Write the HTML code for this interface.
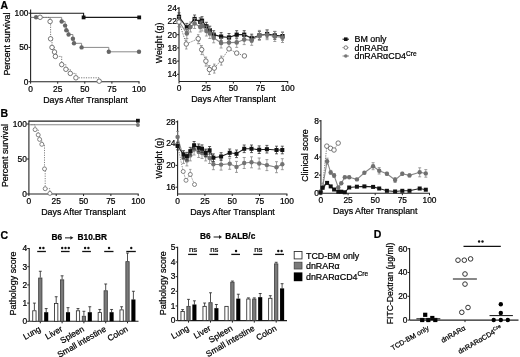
<!DOCTYPE html>
<html><head><meta charset="utf-8"><style>
html,body{margin:0;padding:0;background:#fff;}
body{width:520px;height:357px;overflow:hidden;}
svg{display:block;font-family:"Liberation Sans", sans-serif;filter:blur(0.35px);}
text{stroke:#000;stroke-width:0.22px;}
</style></head><body>
<svg width="520" height="357" viewBox="0 0 520 357">
<rect width="520" height="357" fill="#fff"/>
<text x="0.50" y="8.80" font-size="10.5" text-anchor="start" font-weight="bold">A</text>
<line x1="30.60" y1="9.60" x2="30.60" y2="81.70" stroke="#222" stroke-width="1.1"/>
<line x1="28.60" y1="13.20" x2="30.60" y2="13.20" stroke="#222" stroke-width="1.0"/>
<text x="28.50" y="16.00" font-size="8.4" text-anchor="end">100</text>
<line x1="28.60" y1="47.45" x2="30.60" y2="47.45" stroke="#222" stroke-width="1.0"/>
<text x="28.50" y="50.25" font-size="8.4" text-anchor="end">50</text>
<line x1="28.60" y1="81.70" x2="30.60" y2="81.70" stroke="#222" stroke-width="1.0"/>
<text x="28.50" y="84.50" font-size="8.4" text-anchor="end">0</text>
<line x1="30.60" y1="81.70" x2="139.50" y2="81.70" stroke="#222" stroke-width="1.1"/>
<line x1="30.60" y1="81.70" x2="30.60" y2="83.70" stroke="#222" stroke-width="1.0"/>
<text x="30.60" y="91.60" font-size="8.4" text-anchor="middle">0</text>
<line x1="57.70" y1="81.70" x2="57.70" y2="83.70" stroke="#222" stroke-width="1.0"/>
<text x="57.70" y="91.60" font-size="8.4" text-anchor="middle">25</text>
<line x1="84.80" y1="81.70" x2="84.80" y2="83.70" stroke="#222" stroke-width="1.0"/>
<text x="84.80" y="91.60" font-size="8.4" text-anchor="middle">50</text>
<line x1="111.90" y1="81.70" x2="111.90" y2="83.70" stroke="#222" stroke-width="1.0"/>
<text x="111.90" y="91.60" font-size="8.4" text-anchor="middle">75</text>
<line x1="139.00" y1="81.70" x2="139.00" y2="83.70" stroke="#222" stroke-width="1.0"/>
<text x="139.00" y="91.60" font-size="8.4" text-anchor="middle">100</text>
<text x="85.50" y="102.60" font-size="8.85" text-anchor="middle">Days After Transplant</text>
<text x="10.30" y="44.10" font-size="8.85" text-anchor="middle" transform="rotate(-90 10.30 44.10)">Percent survival</text>
<polyline points="30.60,13.20 83.60,13.20 83.60,17.40 139.20,17.40" fill="none" stroke="#1a1a1a" stroke-width="1.1"/>
<rect x="81.70" y="15.50" width="3.8" height="3.8" fill="#111"/>
<rect x="137.30" y="15.50" width="3.8" height="3.8" fill="#111"/>
<polyline points="30.60,17.40 61.70,17.40 61.70,17.40 61.70,21.50 65.10,21.50 65.10,25.60 66.30,25.60 66.30,30.20 68.60,30.20 68.60,34.50 72.90,34.50 72.90,38.80 74.00,38.80 74.00,43.30 81.60,43.30 81.60,47.40 108.80,47.40 108.80,51.80 139.00,51.80" fill="none" stroke="#8a8a8a" stroke-width="1.0"/>
<circle cx="36.10" cy="17.30" r="2.2" fill="#666"/>
<circle cx="61.70" cy="21.50" r="2.2" fill="#666"/>
<circle cx="65.10" cy="25.60" r="2.2" fill="#666"/>
<circle cx="66.30" cy="30.20" r="2.2" fill="#666"/>
<circle cx="68.60" cy="34.50" r="2.2" fill="#666"/>
<circle cx="72.90" cy="38.80" r="2.2" fill="#666"/>
<circle cx="74.00" cy="43.30" r="2.2" fill="#666"/>
<circle cx="81.60" cy="47.40" r="2.2" fill="#666"/>
<circle cx="108.80" cy="51.80" r="2.2" fill="#666"/>
<circle cx="139.00" cy="51.80" r="2.2" fill="#666"/>
<polyline points="31.10,17.40 50.10,17.40 50.10,17.40 50.10,21.50 50.60,21.50 50.60,38.80 52.00,38.80 52.00,47.40 54.50,47.40 54.50,52.00 55.40,52.00 55.40,56.40 61.70,56.40 61.70,64.60 65.90,64.60 65.90,69.30 70.30,69.30 70.30,73.40 75.90,73.40 75.90,77.80 99.20,77.80 99.20,81.20" fill="none" stroke="#666" stroke-width="0.9" stroke-dasharray="1.2,1.2"/>
<circle cx="40.10" cy="17.30" r="2.25" fill="#fff" stroke="#606060" stroke-width="0.85"/>
<circle cx="50.10" cy="21.50" r="2.25" fill="#fff" stroke="#606060" stroke-width="0.85"/>
<circle cx="50.60" cy="38.80" r="2.25" fill="#fff" stroke="#606060" stroke-width="0.85"/>
<circle cx="52.00" cy="47.40" r="2.25" fill="#fff" stroke="#606060" stroke-width="0.85"/>
<circle cx="54.50" cy="52.00" r="2.25" fill="#fff" stroke="#606060" stroke-width="0.85"/>
<circle cx="55.40" cy="56.40" r="2.25" fill="#fff" stroke="#606060" stroke-width="0.85"/>
<circle cx="61.70" cy="64.60" r="2.25" fill="#fff" stroke="#606060" stroke-width="0.85"/>
<circle cx="65.90" cy="69.30" r="2.25" fill="#fff" stroke="#606060" stroke-width="0.85"/>
<circle cx="70.30" cy="73.40" r="2.25" fill="#fff" stroke="#606060" stroke-width="0.85"/>
<circle cx="75.90" cy="77.80" r="2.25" fill="#fff" stroke="#606060" stroke-width="0.85"/>
<circle cx="99.20" cy="81.20" r="2.25" fill="#fff" stroke="#606060" stroke-width="0.85"/>
<line x1="179.00" y1="7.00" x2="179.00" y2="81.50" stroke="#222" stroke-width="1.1"/>
<line x1="177.00" y1="8.30" x2="179.00" y2="8.30" stroke="#222" stroke-width="1.0"/>
<text x="176.90" y="11.10" font-size="8.4" text-anchor="end">24</text>
<line x1="177.00" y1="21.50" x2="179.00" y2="21.50" stroke="#222" stroke-width="1.0"/>
<text x="176.90" y="24.30" font-size="8.4" text-anchor="end">22</text>
<line x1="177.00" y1="34.70" x2="179.00" y2="34.70" stroke="#222" stroke-width="1.0"/>
<text x="176.90" y="37.50" font-size="8.4" text-anchor="end">20</text>
<line x1="177.00" y1="47.90" x2="179.00" y2="47.90" stroke="#222" stroke-width="1.0"/>
<text x="176.90" y="50.70" font-size="8.4" text-anchor="end">18</text>
<line x1="177.00" y1="61.10" x2="179.00" y2="61.10" stroke="#222" stroke-width="1.0"/>
<text x="176.90" y="63.90" font-size="8.4" text-anchor="end">16</text>
<line x1="177.00" y1="74.30" x2="179.00" y2="74.30" stroke="#222" stroke-width="1.0"/>
<text x="176.90" y="77.10" font-size="8.4" text-anchor="end">14</text>
<line x1="179.00" y1="81.50" x2="288.20" y2="81.50" stroke="#222" stroke-width="1.1"/>
<line x1="179.00" y1="81.50" x2="179.00" y2="83.50" stroke="#222" stroke-width="1.0"/>
<text x="179.00" y="91.40" font-size="8.4" text-anchor="middle">0</text>
<line x1="206.18" y1="81.50" x2="206.18" y2="83.50" stroke="#222" stroke-width="1.0"/>
<text x="206.18" y="91.40" font-size="8.4" text-anchor="middle">25</text>
<line x1="233.35" y1="81.50" x2="233.35" y2="83.50" stroke="#222" stroke-width="1.0"/>
<text x="233.35" y="91.40" font-size="8.4" text-anchor="middle">50</text>
<line x1="260.52" y1="81.50" x2="260.52" y2="83.50" stroke="#222" stroke-width="1.0"/>
<text x="260.52" y="91.40" font-size="8.4" text-anchor="middle">75</text>
<line x1="287.70" y1="81.50" x2="287.70" y2="83.50" stroke="#222" stroke-width="1.0"/>
<text x="287.70" y="91.40" font-size="8.4" text-anchor="middle">100</text>
<text x="233.50" y="101.80" font-size="8.85" text-anchor="middle">Days After Transplant</text>
<text x="162.50" y="42.90" font-size="8.85" text-anchor="middle" transform="rotate(-90 162.50 42.90)">Weight (g)</text>
<line x1="179.00" y1="12.80" x2="179.00" y2="20.80" stroke="#333" stroke-width="0.8"/>
<line x1="177.50" y1="12.80" x2="180.50" y2="12.80" stroke="#333" stroke-width="0.8"/>
<line x1="177.50" y1="20.80" x2="180.50" y2="20.80" stroke="#333" stroke-width="0.8"/>
<line x1="186.80" y1="23.40" x2="186.80" y2="31.40" stroke="#333" stroke-width="0.8"/>
<line x1="185.30" y1="23.40" x2="188.30" y2="23.40" stroke="#333" stroke-width="0.8"/>
<line x1="185.30" y1="31.40" x2="188.30" y2="31.40" stroke="#333" stroke-width="0.8"/>
<line x1="194.60" y1="15.00" x2="194.60" y2="23.00" stroke="#333" stroke-width="0.8"/>
<line x1="193.10" y1="15.00" x2="196.10" y2="15.00" stroke="#333" stroke-width="0.8"/>
<line x1="193.10" y1="23.00" x2="196.10" y2="23.00" stroke="#333" stroke-width="0.8"/>
<line x1="200.20" y1="17.80" x2="200.20" y2="25.80" stroke="#333" stroke-width="0.8"/>
<line x1="198.70" y1="17.80" x2="201.70" y2="17.80" stroke="#333" stroke-width="0.8"/>
<line x1="198.70" y1="25.80" x2="201.70" y2="25.80" stroke="#333" stroke-width="0.8"/>
<line x1="202.00" y1="16.70" x2="202.00" y2="24.70" stroke="#333" stroke-width="0.8"/>
<line x1="200.50" y1="16.70" x2="203.50" y2="16.70" stroke="#333" stroke-width="0.8"/>
<line x1="200.50" y1="24.70" x2="203.50" y2="24.70" stroke="#333" stroke-width="0.8"/>
<line x1="206.40" y1="22.30" x2="206.40" y2="30.30" stroke="#333" stroke-width="0.8"/>
<line x1="204.90" y1="22.30" x2="207.90" y2="22.30" stroke="#333" stroke-width="0.8"/>
<line x1="204.90" y1="30.30" x2="207.90" y2="30.30" stroke="#333" stroke-width="0.8"/>
<line x1="209.80" y1="26.20" x2="209.80" y2="34.20" stroke="#333" stroke-width="0.8"/>
<line x1="208.30" y1="26.20" x2="211.30" y2="26.20" stroke="#333" stroke-width="0.8"/>
<line x1="208.30" y1="34.20" x2="211.30" y2="34.20" stroke="#333" stroke-width="0.8"/>
<line x1="213.70" y1="30.70" x2="213.70" y2="38.70" stroke="#333" stroke-width="0.8"/>
<line x1="212.20" y1="30.70" x2="215.20" y2="30.70" stroke="#333" stroke-width="0.8"/>
<line x1="212.20" y1="38.70" x2="215.20" y2="38.70" stroke="#333" stroke-width="0.8"/>
<line x1="221.10" y1="32.60" x2="221.10" y2="40.60" stroke="#333" stroke-width="0.8"/>
<line x1="219.60" y1="32.60" x2="222.60" y2="32.60" stroke="#333" stroke-width="0.8"/>
<line x1="219.60" y1="40.60" x2="222.60" y2="40.60" stroke="#333" stroke-width="0.8"/>
<line x1="229.00" y1="33.50" x2="229.00" y2="41.50" stroke="#333" stroke-width="0.8"/>
<line x1="227.50" y1="33.50" x2="230.50" y2="33.50" stroke="#333" stroke-width="0.8"/>
<line x1="227.50" y1="41.50" x2="230.50" y2="41.50" stroke="#333" stroke-width="0.8"/>
<line x1="236.70" y1="30.70" x2="236.70" y2="38.70" stroke="#333" stroke-width="0.8"/>
<line x1="235.20" y1="30.70" x2="238.20" y2="30.70" stroke="#333" stroke-width="0.8"/>
<line x1="235.20" y1="38.70" x2="238.20" y2="38.70" stroke="#333" stroke-width="0.8"/>
<line x1="244.20" y1="30.70" x2="244.20" y2="38.70" stroke="#333" stroke-width="0.8"/>
<line x1="242.70" y1="30.70" x2="245.70" y2="30.70" stroke="#333" stroke-width="0.8"/>
<line x1="242.70" y1="38.70" x2="245.70" y2="38.70" stroke="#333" stroke-width="0.8"/>
<line x1="251.70" y1="34.20" x2="251.70" y2="42.20" stroke="#333" stroke-width="0.8"/>
<line x1="250.20" y1="34.20" x2="253.20" y2="34.20" stroke="#333" stroke-width="0.8"/>
<line x1="250.20" y1="42.20" x2="253.20" y2="42.20" stroke="#333" stroke-width="0.8"/>
<line x1="259.40" y1="31.40" x2="259.40" y2="39.40" stroke="#333" stroke-width="0.8"/>
<line x1="257.90" y1="31.40" x2="260.90" y2="31.40" stroke="#333" stroke-width="0.8"/>
<line x1="257.90" y1="39.40" x2="260.90" y2="39.40" stroke="#333" stroke-width="0.8"/>
<line x1="267.10" y1="30.00" x2="267.10" y2="38.00" stroke="#333" stroke-width="0.8"/>
<line x1="265.60" y1="30.00" x2="268.60" y2="30.00" stroke="#333" stroke-width="0.8"/>
<line x1="265.60" y1="38.00" x2="268.60" y2="38.00" stroke="#333" stroke-width="0.8"/>
<line x1="274.80" y1="31.40" x2="274.80" y2="39.40" stroke="#333" stroke-width="0.8"/>
<line x1="273.30" y1="31.40" x2="276.30" y2="31.40" stroke="#333" stroke-width="0.8"/>
<line x1="273.30" y1="39.40" x2="276.30" y2="39.40" stroke="#333" stroke-width="0.8"/>
<line x1="282.50" y1="32.10" x2="282.50" y2="40.10" stroke="#333" stroke-width="0.8"/>
<line x1="281.00" y1="32.10" x2="284.00" y2="32.10" stroke="#333" stroke-width="0.8"/>
<line x1="281.00" y1="40.10" x2="284.00" y2="40.10" stroke="#333" stroke-width="0.8"/>
<polyline points="179.00,16.80 186.80,27.40 194.60,19.00 200.20,21.80 202.00,20.70 206.40,26.30 209.80,30.20 213.70,34.70 221.10,36.60 229.00,37.50 236.70,34.70 244.20,34.70 251.70,38.20 259.40,35.40 267.10,34.00 274.80,35.40 282.50,36.10" fill="none" stroke="#222" stroke-width="1.2"/>
<rect x="176.90" y="14.70" width="4.2" height="4.2" fill="#111"/>
<rect x="184.70" y="25.30" width="4.2" height="4.2" fill="#111"/>
<rect x="192.50" y="16.90" width="4.2" height="4.2" fill="#111"/>
<rect x="198.10" y="19.70" width="4.2" height="4.2" fill="#111"/>
<rect x="199.90" y="18.60" width="4.2" height="4.2" fill="#111"/>
<rect x="204.30" y="24.20" width="4.2" height="4.2" fill="#111"/>
<rect x="207.70" y="28.10" width="4.2" height="4.2" fill="#111"/>
<rect x="211.60" y="32.60" width="4.2" height="4.2" fill="#111"/>
<rect x="219.00" y="34.50" width="4.2" height="4.2" fill="#111"/>
<rect x="226.90" y="35.40" width="4.2" height="4.2" fill="#111"/>
<rect x="234.60" y="32.60" width="4.2" height="4.2" fill="#111"/>
<rect x="242.10" y="32.60" width="4.2" height="4.2" fill="#111"/>
<rect x="249.60" y="36.10" width="4.2" height="4.2" fill="#111"/>
<rect x="257.30" y="33.30" width="4.2" height="4.2" fill="#111"/>
<rect x="265.00" y="31.90" width="4.2" height="4.2" fill="#111"/>
<rect x="272.70" y="33.30" width="4.2" height="4.2" fill="#111"/>
<rect x="280.40" y="34.00" width="4.2" height="4.2" fill="#111"/>
<line x1="179.00" y1="16.50" x2="179.00" y2="26.50" stroke="#8a8a8a" stroke-width="0.8"/>
<line x1="177.50" y1="16.50" x2="180.50" y2="16.50" stroke="#8a8a8a" stroke-width="0.8"/>
<line x1="177.50" y1="26.50" x2="180.50" y2="26.50" stroke="#8a8a8a" stroke-width="0.8"/>
<line x1="186.80" y1="28.50" x2="186.80" y2="38.50" stroke="#8a8a8a" stroke-width="0.8"/>
<line x1="185.30" y1="28.50" x2="188.30" y2="28.50" stroke="#8a8a8a" stroke-width="0.8"/>
<line x1="185.30" y1="38.50" x2="188.30" y2="38.50" stroke="#8a8a8a" stroke-width="0.8"/>
<line x1="190.50" y1="22.00" x2="190.50" y2="32.00" stroke="#8a8a8a" stroke-width="0.8"/>
<line x1="189.00" y1="22.00" x2="192.00" y2="22.00" stroke="#8a8a8a" stroke-width="0.8"/>
<line x1="189.00" y1="32.00" x2="192.00" y2="32.00" stroke="#8a8a8a" stroke-width="0.8"/>
<line x1="194.60" y1="18.50" x2="194.60" y2="28.50" stroke="#8a8a8a" stroke-width="0.8"/>
<line x1="193.10" y1="18.50" x2="196.10" y2="18.50" stroke="#8a8a8a" stroke-width="0.8"/>
<line x1="193.10" y1="28.50" x2="196.10" y2="28.50" stroke="#8a8a8a" stroke-width="0.8"/>
<line x1="200.20" y1="22.00" x2="200.20" y2="32.00" stroke="#8a8a8a" stroke-width="0.8"/>
<line x1="198.70" y1="22.00" x2="201.70" y2="22.00" stroke="#8a8a8a" stroke-width="0.8"/>
<line x1="198.70" y1="32.00" x2="201.70" y2="32.00" stroke="#8a8a8a" stroke-width="0.8"/>
<line x1="202.00" y1="21.00" x2="202.00" y2="31.00" stroke="#8a8a8a" stroke-width="0.8"/>
<line x1="200.50" y1="21.00" x2="203.50" y2="21.00" stroke="#8a8a8a" stroke-width="0.8"/>
<line x1="200.50" y1="31.00" x2="203.50" y2="31.00" stroke="#8a8a8a" stroke-width="0.8"/>
<line x1="206.40" y1="26.00" x2="206.40" y2="36.00" stroke="#8a8a8a" stroke-width="0.8"/>
<line x1="204.90" y1="26.00" x2="207.90" y2="26.00" stroke="#8a8a8a" stroke-width="0.8"/>
<line x1="204.90" y1="36.00" x2="207.90" y2="36.00" stroke="#8a8a8a" stroke-width="0.8"/>
<line x1="209.80" y1="28.50" x2="209.80" y2="38.50" stroke="#8a8a8a" stroke-width="0.8"/>
<line x1="208.30" y1="28.50" x2="211.30" y2="28.50" stroke="#8a8a8a" stroke-width="0.8"/>
<line x1="208.30" y1="38.50" x2="211.30" y2="38.50" stroke="#8a8a8a" stroke-width="0.8"/>
<line x1="213.70" y1="32.80" x2="213.70" y2="42.80" stroke="#8a8a8a" stroke-width="0.8"/>
<line x1="212.20" y1="32.80" x2="215.20" y2="32.80" stroke="#8a8a8a" stroke-width="0.8"/>
<line x1="212.20" y1="42.80" x2="215.20" y2="42.80" stroke="#8a8a8a" stroke-width="0.8"/>
<line x1="221.10" y1="38.00" x2="221.10" y2="48.00" stroke="#8a8a8a" stroke-width="0.8"/>
<line x1="219.60" y1="38.00" x2="222.60" y2="38.00" stroke="#8a8a8a" stroke-width="0.8"/>
<line x1="219.60" y1="48.00" x2="222.60" y2="48.00" stroke="#8a8a8a" stroke-width="0.8"/>
<line x1="229.00" y1="37.60" x2="229.00" y2="47.60" stroke="#8a8a8a" stroke-width="0.8"/>
<line x1="227.50" y1="37.60" x2="230.50" y2="37.60" stroke="#8a8a8a" stroke-width="0.8"/>
<line x1="227.50" y1="47.60" x2="230.50" y2="47.60" stroke="#8a8a8a" stroke-width="0.8"/>
<line x1="236.70" y1="37.40" x2="236.70" y2="47.40" stroke="#8a8a8a" stroke-width="0.8"/>
<line x1="235.20" y1="37.40" x2="238.20" y2="37.40" stroke="#8a8a8a" stroke-width="0.8"/>
<line x1="235.20" y1="47.40" x2="238.20" y2="47.40" stroke="#8a8a8a" stroke-width="0.8"/>
<line x1="244.20" y1="34.60" x2="244.20" y2="44.60" stroke="#8a8a8a" stroke-width="0.8"/>
<line x1="242.70" y1="34.60" x2="245.70" y2="34.60" stroke="#8a8a8a" stroke-width="0.8"/>
<line x1="242.70" y1="44.60" x2="245.70" y2="44.60" stroke="#8a8a8a" stroke-width="0.8"/>
<line x1="251.70" y1="35.30" x2="251.70" y2="45.30" stroke="#8a8a8a" stroke-width="0.8"/>
<line x1="250.20" y1="35.30" x2="253.20" y2="35.30" stroke="#8a8a8a" stroke-width="0.8"/>
<line x1="250.20" y1="45.30" x2="253.20" y2="45.30" stroke="#8a8a8a" stroke-width="0.8"/>
<line x1="259.40" y1="30.40" x2="259.40" y2="40.40" stroke="#8a8a8a" stroke-width="0.8"/>
<line x1="257.90" y1="30.40" x2="260.90" y2="30.40" stroke="#8a8a8a" stroke-width="0.8"/>
<line x1="257.90" y1="40.40" x2="260.90" y2="40.40" stroke="#8a8a8a" stroke-width="0.8"/>
<line x1="267.10" y1="29.70" x2="267.10" y2="39.70" stroke="#8a8a8a" stroke-width="0.8"/>
<line x1="265.60" y1="29.70" x2="268.60" y2="29.70" stroke="#8a8a8a" stroke-width="0.8"/>
<line x1="265.60" y1="39.70" x2="268.60" y2="39.70" stroke="#8a8a8a" stroke-width="0.8"/>
<line x1="274.80" y1="31.50" x2="274.80" y2="41.50" stroke="#8a8a8a" stroke-width="0.8"/>
<line x1="273.30" y1="31.50" x2="276.30" y2="31.50" stroke="#8a8a8a" stroke-width="0.8"/>
<line x1="273.30" y1="41.50" x2="276.30" y2="41.50" stroke="#8a8a8a" stroke-width="0.8"/>
<line x1="282.50" y1="32.50" x2="282.50" y2="42.50" stroke="#8a8a8a" stroke-width="0.8"/>
<line x1="281.00" y1="32.50" x2="284.00" y2="32.50" stroke="#8a8a8a" stroke-width="0.8"/>
<line x1="281.00" y1="42.50" x2="284.00" y2="42.50" stroke="#8a8a8a" stroke-width="0.8"/>
<polyline points="179.00,21.50 186.80,33.50 190.50,27.00 194.60,23.50 200.20,27.00 202.00,26.00 206.40,31.00 209.80,33.50 213.70,37.80 221.10,43.00 229.00,42.60 236.70,42.40 244.20,39.60 251.70,40.30 259.40,35.40 267.10,34.70 274.80,36.50 282.50,37.50" fill="none" stroke="#888" stroke-width="1.1"/>
<circle cx="179.00" cy="21.50" r="2.3" fill="#707070"/>
<circle cx="186.80" cy="33.50" r="2.3" fill="#707070"/>
<circle cx="190.50" cy="27.00" r="2.3" fill="#707070"/>
<circle cx="194.60" cy="23.50" r="2.3" fill="#707070"/>
<circle cx="200.20" cy="27.00" r="2.3" fill="#707070"/>
<circle cx="202.00" cy="26.00" r="2.3" fill="#707070"/>
<circle cx="206.40" cy="31.00" r="2.3" fill="#707070"/>
<circle cx="209.80" cy="33.50" r="2.3" fill="#707070"/>
<circle cx="213.70" cy="37.80" r="2.3" fill="#707070"/>
<circle cx="221.10" cy="43.00" r="2.3" fill="#707070"/>
<circle cx="229.00" cy="42.60" r="2.3" fill="#707070"/>
<circle cx="236.70" cy="42.40" r="2.3" fill="#707070"/>
<circle cx="244.20" cy="39.60" r="2.3" fill="#707070"/>
<circle cx="251.70" cy="40.30" r="2.3" fill="#707070"/>
<circle cx="259.40" cy="35.40" r="2.3" fill="#707070"/>
<circle cx="267.10" cy="34.70" r="2.3" fill="#707070"/>
<circle cx="274.80" cy="36.50" r="2.3" fill="#707070"/>
<circle cx="282.50" cy="37.50" r="2.3" fill="#707070"/>
<line x1="179.00" y1="18.00" x2="179.00" y2="27.00" stroke="#777" stroke-width="0.7"/>
<line x1="177.75" y1="18.00" x2="180.25" y2="18.00" stroke="#777" stroke-width="0.7"/>
<line x1="177.75" y1="27.00" x2="180.25" y2="27.00" stroke="#777" stroke-width="0.7"/>
<line x1="186.30" y1="40.00" x2="186.30" y2="49.00" stroke="#777" stroke-width="0.7"/>
<line x1="185.05" y1="40.00" x2="187.55" y2="40.00" stroke="#777" stroke-width="0.7"/>
<line x1="185.05" y1="49.00" x2="187.55" y2="49.00" stroke="#777" stroke-width="0.7"/>
<line x1="198.20" y1="34.70" x2="198.20" y2="43.70" stroke="#777" stroke-width="0.7"/>
<line x1="196.95" y1="34.70" x2="199.45" y2="34.70" stroke="#777" stroke-width="0.7"/>
<line x1="196.95" y1="43.70" x2="199.45" y2="43.70" stroke="#777" stroke-width="0.7"/>
<line x1="201.70" y1="45.60" x2="201.70" y2="54.60" stroke="#777" stroke-width="0.7"/>
<line x1="200.45" y1="45.60" x2="202.95" y2="45.60" stroke="#777" stroke-width="0.7"/>
<line x1="200.45" y1="54.60" x2="202.95" y2="54.60" stroke="#777" stroke-width="0.7"/>
<line x1="205.90" y1="57.10" x2="205.90" y2="66.10" stroke="#777" stroke-width="0.7"/>
<line x1="204.65" y1="57.10" x2="207.15" y2="57.10" stroke="#777" stroke-width="0.7"/>
<line x1="204.65" y1="66.10" x2="207.15" y2="66.10" stroke="#777" stroke-width="0.7"/>
<line x1="209.40" y1="65.50" x2="209.40" y2="74.50" stroke="#777" stroke-width="0.7"/>
<line x1="208.15" y1="65.50" x2="210.65" y2="65.50" stroke="#777" stroke-width="0.7"/>
<line x1="208.15" y1="74.50" x2="210.65" y2="74.50" stroke="#777" stroke-width="0.7"/>
<line x1="214.30" y1="64.10" x2="214.30" y2="73.10" stroke="#777" stroke-width="0.7"/>
<line x1="213.05" y1="64.10" x2="215.55" y2="64.10" stroke="#777" stroke-width="0.7"/>
<line x1="213.05" y1="73.10" x2="215.55" y2="73.10" stroke="#777" stroke-width="0.7"/>
<line x1="221.30" y1="56.10" x2="221.30" y2="65.10" stroke="#777" stroke-width="0.7"/>
<line x1="220.05" y1="56.10" x2="222.55" y2="56.10" stroke="#777" stroke-width="0.7"/>
<line x1="220.05" y1="65.10" x2="222.55" y2="65.10" stroke="#777" stroke-width="0.7"/>
<polyline points="179.00,22.00 186.30,44.00 198.20,38.70 201.70,49.60 205.90,61.10 209.40,69.50 214.30,68.10 221.30,60.10 229.00,48.90 236.70,53.10 244.40,55.90" fill="none" stroke="#666" stroke-width="0.9" stroke-dasharray="1.2,1.2"/>
<circle cx="179.00" cy="22.00" r="2.25" fill="#fff" stroke="#606060" stroke-width="0.85"/>
<circle cx="186.30" cy="44.00" r="2.25" fill="#fff" stroke="#606060" stroke-width="0.85"/>
<circle cx="198.20" cy="38.70" r="2.25" fill="#fff" stroke="#606060" stroke-width="0.85"/>
<circle cx="201.70" cy="49.60" r="2.25" fill="#fff" stroke="#606060" stroke-width="0.85"/>
<circle cx="205.90" cy="61.10" r="2.25" fill="#fff" stroke="#606060" stroke-width="0.85"/>
<circle cx="209.40" cy="69.50" r="2.25" fill="#fff" stroke="#606060" stroke-width="0.85"/>
<circle cx="214.30" cy="68.10" r="2.25" fill="#fff" stroke="#606060" stroke-width="0.85"/>
<circle cx="221.30" cy="60.10" r="2.25" fill="#fff" stroke="#606060" stroke-width="0.85"/>
<circle cx="229.00" cy="48.90" r="2.25" fill="#fff" stroke="#606060" stroke-width="0.85"/>
<circle cx="236.70" cy="53.10" r="2.25" fill="#fff" stroke="#606060" stroke-width="0.85"/>
<circle cx="244.40" cy="55.90" r="2.25" fill="#fff" stroke="#606060" stroke-width="0.85"/>
<rect x="344.00" y="37.40" width="3.6" height="3.6" fill="#111"/>
<line x1="342.50" y1="39.20" x2="349.00" y2="39.20" stroke="#111" stroke-width="1"/>
<line x1="342.50" y1="47.60" x2="349.00" y2="47.60" stroke="#777" stroke-width="0.9" stroke-dasharray="1,1"/>
<circle cx="345.80" cy="47.60" r="1.8" fill="#fff" stroke="#606060" stroke-width="0.85"/>
<line x1="342.50" y1="56.00" x2="349.00" y2="56.00" stroke="#888" stroke-width="1"/>
<circle cx="345.80" cy="56.00" r="1.8" fill="#777"/>
<text x="354.50" y="42.40" font-size="8.9" text-anchor="start">BM only</text>
<text x="354.50" y="50.80" font-size="8.9" text-anchor="start">dnRARα</text>
<text x="354.50" y="59.20" font-size="8.9" text-anchor="start">dnRARαCD4<tspan font-size="6.6" dy="-3.6">Cre</tspan></text>
<text x="0.50" y="116.80" font-size="10.5" text-anchor="start" font-weight="bold">B</text>
<line x1="28.90" y1="120.60" x2="28.90" y2="194.00" stroke="#222" stroke-width="1.1"/>
<line x1="26.90" y1="124.00" x2="28.90" y2="124.00" stroke="#222" stroke-width="1.0"/>
<text x="26.80" y="126.80" font-size="8.4" text-anchor="end">100</text>
<line x1="26.90" y1="159.00" x2="28.90" y2="159.00" stroke="#222" stroke-width="1.0"/>
<text x="26.80" y="161.80" font-size="8.4" text-anchor="end">50</text>
<line x1="26.90" y1="194.00" x2="28.90" y2="194.00" stroke="#222" stroke-width="1.0"/>
<text x="26.80" y="196.80" font-size="8.4" text-anchor="end">0</text>
<line x1="28.90" y1="194.00" x2="138.70" y2="194.00" stroke="#222" stroke-width="1.1"/>
<line x1="28.90" y1="194.00" x2="28.90" y2="196.00" stroke="#222" stroke-width="1.0"/>
<text x="28.90" y="203.90" font-size="8.4" text-anchor="middle">0</text>
<line x1="56.22" y1="194.00" x2="56.22" y2="196.00" stroke="#222" stroke-width="1.0"/>
<text x="56.22" y="203.90" font-size="8.4" text-anchor="middle">25</text>
<line x1="83.55" y1="194.00" x2="83.55" y2="196.00" stroke="#222" stroke-width="1.0"/>
<text x="83.55" y="203.90" font-size="8.4" text-anchor="middle">50</text>
<line x1="110.88" y1="194.00" x2="110.88" y2="196.00" stroke="#222" stroke-width="1.0"/>
<text x="110.88" y="203.90" font-size="8.4" text-anchor="middle">75</text>
<line x1="138.20" y1="194.00" x2="138.20" y2="196.00" stroke="#222" stroke-width="1.0"/>
<text x="138.20" y="203.90" font-size="8.4" text-anchor="middle">100</text>
<text x="83.50" y="214.60" font-size="8.85" text-anchor="middle">Days After Transplant</text>
<text x="8.00" y="155.60" font-size="8.85" text-anchor="middle" transform="rotate(-90 8.00 155.60)">Percent survival</text>
<polyline points="28.90,121.10 137.90,121.10" fill="none" stroke="#222" stroke-width="1.1"/>
<polyline points="28.90,124.70 137.90,124.70" fill="none" stroke="#888" stroke-width="1.1"/>
<rect x="136.00" y="118.80" width="3.8" height="3.8" fill="#111"/>
<circle cx="137.90" cy="125.10" r="2.0" fill="#777"/>
<polyline points="28.90,124.70 35.10,124.70 35.10,124.70 35.10,129.60 38.20,129.60 38.20,134.90 39.60,134.90 39.60,139.40 41.80,139.40 41.80,144.30 44.50,144.30 44.50,168.90 45.20,168.90 45.20,188.70 49.90,188.70 49.90,193.40" fill="none" stroke="#777" stroke-width="0.9" stroke-dasharray="1.2,1.2"/>
<circle cx="35.10" cy="129.60" r="2.0" fill="#fff" stroke="#666" stroke-width="0.8"/>
<circle cx="38.20" cy="134.90" r="2.0" fill="#fff" stroke="#666" stroke-width="0.8"/>
<circle cx="39.60" cy="139.40" r="2.0" fill="#fff" stroke="#666" stroke-width="0.8"/>
<circle cx="41.80" cy="144.30" r="2.0" fill="#fff" stroke="#666" stroke-width="0.8"/>
<circle cx="44.50" cy="168.90" r="2.0" fill="#fff" stroke="#666" stroke-width="0.8"/>
<circle cx="45.20" cy="188.70" r="2.0" fill="#fff" stroke="#666" stroke-width="0.8"/>
<circle cx="49.90" cy="193.40" r="2.0" fill="#fff" stroke="#666" stroke-width="0.8"/>
<line x1="177.60" y1="120.50" x2="177.60" y2="194.00" stroke="#222" stroke-width="1.1"/>
<line x1="175.60" y1="121.80" x2="177.60" y2="121.80" stroke="#222" stroke-width="1.0"/>
<text x="175.50" y="124.60" font-size="8.4" text-anchor="end">28</text>
<line x1="175.60" y1="143.60" x2="177.60" y2="143.60" stroke="#222" stroke-width="1.0"/>
<text x="175.50" y="146.40" font-size="8.4" text-anchor="end">24</text>
<line x1="175.60" y1="165.40" x2="177.60" y2="165.40" stroke="#222" stroke-width="1.0"/>
<text x="175.50" y="168.20" font-size="8.4" text-anchor="end">20</text>
<line x1="175.60" y1="187.20" x2="177.60" y2="187.20" stroke="#222" stroke-width="1.0"/>
<text x="175.50" y="190.00" font-size="8.4" text-anchor="end">16</text>
<line x1="177.60" y1="194.00" x2="287.40" y2="194.00" stroke="#222" stroke-width="1.1"/>
<line x1="177.60" y1="194.00" x2="177.60" y2="196.00" stroke="#222" stroke-width="1.0"/>
<text x="177.60" y="203.90" font-size="8.4" text-anchor="middle">0</text>
<line x1="204.92" y1="194.00" x2="204.92" y2="196.00" stroke="#222" stroke-width="1.0"/>
<text x="204.92" y="203.90" font-size="8.4" text-anchor="middle">25</text>
<line x1="232.25" y1="194.00" x2="232.25" y2="196.00" stroke="#222" stroke-width="1.0"/>
<text x="232.25" y="203.90" font-size="8.4" text-anchor="middle">50</text>
<line x1="259.57" y1="194.00" x2="259.57" y2="196.00" stroke="#222" stroke-width="1.0"/>
<text x="259.57" y="203.90" font-size="8.4" text-anchor="middle">75</text>
<line x1="286.90" y1="194.00" x2="286.90" y2="196.00" stroke="#222" stroke-width="1.0"/>
<text x="286.90" y="203.90" font-size="8.4" text-anchor="middle">100</text>
<text x="232.50" y="214.60" font-size="8.85" text-anchor="middle">Days After Transplant</text>
<text x="162.30" y="158.10" font-size="8.85" text-anchor="middle" transform="rotate(-90 162.30 158.10)">Weight (g)</text>
<line x1="190.30" y1="169.40" x2="190.30" y2="176.40" stroke="#888" stroke-width="0.7"/>
<line x1="189.05" y1="169.40" x2="191.55" y2="169.40" stroke="#888" stroke-width="0.7"/>
<line x1="189.05" y1="176.40" x2="191.55" y2="176.40" stroke="#888" stroke-width="0.7"/>
<polyline points="177.60,145.00 183.20,171.50 186.00,180.30 190.30,174.40 194.50,184.50" fill="none" stroke="#777" stroke-width="0.9" stroke-dasharray="1.2,1.2"/>
<circle cx="177.60" cy="145.00" r="2.0" fill="#fff" stroke="#666" stroke-width="0.8"/>
<circle cx="183.20" cy="171.50" r="2.0" fill="#fff" stroke="#666" stroke-width="0.8"/>
<circle cx="186.00" cy="180.30" r="2.0" fill="#fff" stroke="#666" stroke-width="0.8"/>
<circle cx="190.30" cy="174.40" r="2.0" fill="#fff" stroke="#666" stroke-width="0.8"/>
<circle cx="194.50" cy="184.50" r="2.0" fill="#fff" stroke="#666" stroke-width="0.8"/>
<line x1="177.60" y1="131.40" x2="177.60" y2="142.40" stroke="#888" stroke-width="0.8"/>
<line x1="176.10" y1="131.40" x2="179.10" y2="131.40" stroke="#888" stroke-width="0.8"/>
<line x1="176.10" y1="142.40" x2="179.10" y2="142.40" stroke="#888" stroke-width="0.8"/>
<line x1="183.50" y1="152.40" x2="183.50" y2="163.40" stroke="#888" stroke-width="0.8"/>
<line x1="182.00" y1="152.40" x2="185.00" y2="152.40" stroke="#888" stroke-width="0.8"/>
<line x1="182.00" y1="163.40" x2="185.00" y2="163.40" stroke="#888" stroke-width="0.8"/>
<line x1="186.90" y1="154.90" x2="186.90" y2="165.90" stroke="#888" stroke-width="0.8"/>
<line x1="185.40" y1="154.90" x2="188.40" y2="154.90" stroke="#888" stroke-width="0.8"/>
<line x1="185.40" y1="165.90" x2="188.40" y2="165.90" stroke="#888" stroke-width="0.8"/>
<line x1="190.30" y1="149.90" x2="190.30" y2="160.90" stroke="#888" stroke-width="0.8"/>
<line x1="188.80" y1="149.90" x2="191.80" y2="149.90" stroke="#888" stroke-width="0.8"/>
<line x1="188.80" y1="160.90" x2="191.80" y2="160.90" stroke="#888" stroke-width="0.8"/>
<line x1="194.10" y1="144.00" x2="194.10" y2="155.00" stroke="#888" stroke-width="0.8"/>
<line x1="192.60" y1="144.00" x2="195.60" y2="144.00" stroke="#888" stroke-width="0.8"/>
<line x1="192.60" y1="155.00" x2="195.60" y2="155.00" stroke="#888" stroke-width="0.8"/>
<line x1="198.70" y1="146.50" x2="198.70" y2="157.50" stroke="#888" stroke-width="0.8"/>
<line x1="197.20" y1="146.50" x2="200.20" y2="146.50" stroke="#888" stroke-width="0.8"/>
<line x1="197.20" y1="157.50" x2="200.20" y2="157.50" stroke="#888" stroke-width="0.8"/>
<line x1="202.00" y1="147.50" x2="202.00" y2="158.50" stroke="#888" stroke-width="0.8"/>
<line x1="200.50" y1="147.50" x2="203.50" y2="147.50" stroke="#888" stroke-width="0.8"/>
<line x1="200.50" y1="158.50" x2="203.50" y2="158.50" stroke="#888" stroke-width="0.8"/>
<line x1="205.70" y1="149.90" x2="205.70" y2="160.90" stroke="#888" stroke-width="0.8"/>
<line x1="204.20" y1="149.90" x2="207.20" y2="149.90" stroke="#888" stroke-width="0.8"/>
<line x1="204.20" y1="160.90" x2="207.20" y2="160.90" stroke="#888" stroke-width="0.8"/>
<line x1="209.60" y1="152.50" x2="209.60" y2="163.50" stroke="#888" stroke-width="0.8"/>
<line x1="208.10" y1="152.50" x2="211.10" y2="152.50" stroke="#888" stroke-width="0.8"/>
<line x1="208.10" y1="163.50" x2="211.10" y2="163.50" stroke="#888" stroke-width="0.8"/>
<line x1="213.40" y1="158.70" x2="213.40" y2="169.70" stroke="#888" stroke-width="0.8"/>
<line x1="211.90" y1="158.70" x2="214.90" y2="158.70" stroke="#888" stroke-width="0.8"/>
<line x1="211.90" y1="169.70" x2="214.90" y2="169.70" stroke="#888" stroke-width="0.8"/>
<line x1="221.10" y1="159.10" x2="221.10" y2="170.10" stroke="#888" stroke-width="0.8"/>
<line x1="219.60" y1="159.10" x2="222.60" y2="159.10" stroke="#888" stroke-width="0.8"/>
<line x1="219.60" y1="170.10" x2="222.60" y2="170.10" stroke="#888" stroke-width="0.8"/>
<line x1="229.70" y1="158.30" x2="229.70" y2="169.30" stroke="#888" stroke-width="0.8"/>
<line x1="228.20" y1="158.30" x2="231.20" y2="158.30" stroke="#888" stroke-width="0.8"/>
<line x1="228.20" y1="169.30" x2="231.20" y2="169.30" stroke="#888" stroke-width="0.8"/>
<line x1="236.50" y1="161.40" x2="236.50" y2="172.40" stroke="#888" stroke-width="0.8"/>
<line x1="235.00" y1="161.40" x2="238.00" y2="161.40" stroke="#888" stroke-width="0.8"/>
<line x1="235.00" y1="172.40" x2="238.00" y2="172.40" stroke="#888" stroke-width="0.8"/>
<line x1="244.20" y1="157.50" x2="244.20" y2="168.50" stroke="#888" stroke-width="0.8"/>
<line x1="242.70" y1="157.50" x2="245.70" y2="157.50" stroke="#888" stroke-width="0.8"/>
<line x1="242.70" y1="168.50" x2="245.70" y2="168.50" stroke="#888" stroke-width="0.8"/>
<line x1="251.50" y1="156.80" x2="251.50" y2="167.80" stroke="#888" stroke-width="0.8"/>
<line x1="250.00" y1="156.80" x2="253.00" y2="156.80" stroke="#888" stroke-width="0.8"/>
<line x1="250.00" y1="167.80" x2="253.00" y2="167.80" stroke="#888" stroke-width="0.8"/>
<line x1="259.20" y1="158.00" x2="259.20" y2="169.00" stroke="#888" stroke-width="0.8"/>
<line x1="257.70" y1="158.00" x2="260.70" y2="158.00" stroke="#888" stroke-width="0.8"/>
<line x1="257.70" y1="169.00" x2="260.70" y2="169.00" stroke="#888" stroke-width="0.8"/>
<line x1="266.90" y1="159.60" x2="266.90" y2="170.60" stroke="#888" stroke-width="0.8"/>
<line x1="265.40" y1="159.60" x2="268.40" y2="159.60" stroke="#888" stroke-width="0.8"/>
<line x1="265.40" y1="170.60" x2="268.40" y2="170.60" stroke="#888" stroke-width="0.8"/>
<line x1="276.50" y1="161.70" x2="276.50" y2="172.70" stroke="#888" stroke-width="0.8"/>
<line x1="275.00" y1="161.70" x2="278.00" y2="161.70" stroke="#888" stroke-width="0.8"/>
<line x1="275.00" y1="172.70" x2="278.00" y2="172.70" stroke="#888" stroke-width="0.8"/>
<line x1="282.30" y1="158.70" x2="282.30" y2="169.70" stroke="#888" stroke-width="0.8"/>
<line x1="280.80" y1="158.70" x2="283.80" y2="158.70" stroke="#888" stroke-width="0.8"/>
<line x1="280.80" y1="169.70" x2="283.80" y2="169.70" stroke="#888" stroke-width="0.8"/>
<polyline points="177.60,136.90 183.50,157.90 186.90,160.40 190.30,155.40 194.10,149.50 198.70,152.00 202.00,153.00 205.70,155.40 209.60,158.00 213.40,164.20 221.10,164.60 229.70,163.80 236.50,166.90 244.20,163.00 251.50,162.30 259.20,163.50 266.90,165.10 276.50,167.20 282.30,164.20" fill="none" stroke="#888" stroke-width="1.1"/>
<circle cx="177.60" cy="136.90" r="2.2" fill="#737373"/>
<circle cx="183.50" cy="157.90" r="2.2" fill="#737373"/>
<circle cx="186.90" cy="160.40" r="2.2" fill="#737373"/>
<circle cx="190.30" cy="155.40" r="2.2" fill="#737373"/>
<circle cx="194.10" cy="149.50" r="2.2" fill="#737373"/>
<circle cx="198.70" cy="152.00" r="2.2" fill="#737373"/>
<circle cx="202.00" cy="153.00" r="2.2" fill="#737373"/>
<circle cx="205.70" cy="155.40" r="2.2" fill="#737373"/>
<circle cx="209.60" cy="158.00" r="2.2" fill="#737373"/>
<circle cx="213.40" cy="164.20" r="2.2" fill="#737373"/>
<circle cx="221.10" cy="164.60" r="2.2" fill="#737373"/>
<circle cx="229.70" cy="163.80" r="2.2" fill="#737373"/>
<circle cx="236.50" cy="166.90" r="2.2" fill="#737373"/>
<circle cx="244.20" cy="163.00" r="2.2" fill="#737373"/>
<circle cx="251.50" cy="162.30" r="2.2" fill="#737373"/>
<circle cx="259.20" cy="163.50" r="2.2" fill="#737373"/>
<circle cx="266.90" cy="165.10" r="2.2" fill="#737373"/>
<circle cx="276.50" cy="167.20" r="2.2" fill="#737373"/>
<circle cx="282.30" cy="164.20" r="2.2" fill="#737373"/>
<line x1="177.60" y1="142.20" x2="177.60" y2="149.80" stroke="#333" stroke-width="0.8"/>
<line x1="176.10" y1="142.20" x2="179.10" y2="142.20" stroke="#333" stroke-width="0.8"/>
<line x1="176.10" y1="149.80" x2="179.10" y2="149.80" stroke="#333" stroke-width="0.8"/>
<line x1="183.50" y1="150.70" x2="183.50" y2="158.30" stroke="#333" stroke-width="0.8"/>
<line x1="182.00" y1="150.70" x2="185.00" y2="150.70" stroke="#333" stroke-width="0.8"/>
<line x1="182.00" y1="158.30" x2="185.00" y2="158.30" stroke="#333" stroke-width="0.8"/>
<line x1="186.90" y1="152.40" x2="186.90" y2="160.00" stroke="#333" stroke-width="0.8"/>
<line x1="185.40" y1="152.40" x2="188.40" y2="152.40" stroke="#333" stroke-width="0.8"/>
<line x1="185.40" y1="160.00" x2="188.40" y2="160.00" stroke="#333" stroke-width="0.8"/>
<line x1="190.30" y1="147.40" x2="190.30" y2="155.00" stroke="#333" stroke-width="0.8"/>
<line x1="188.80" y1="147.40" x2="191.80" y2="147.40" stroke="#333" stroke-width="0.8"/>
<line x1="188.80" y1="155.00" x2="191.80" y2="155.00" stroke="#333" stroke-width="0.8"/>
<line x1="194.10" y1="141.50" x2="194.10" y2="149.10" stroke="#333" stroke-width="0.8"/>
<line x1="192.60" y1="141.50" x2="195.60" y2="141.50" stroke="#333" stroke-width="0.8"/>
<line x1="192.60" y1="149.10" x2="195.60" y2="149.10" stroke="#333" stroke-width="0.8"/>
<line x1="198.70" y1="144.00" x2="198.70" y2="151.60" stroke="#333" stroke-width="0.8"/>
<line x1="197.20" y1="144.00" x2="200.20" y2="144.00" stroke="#333" stroke-width="0.8"/>
<line x1="197.20" y1="151.60" x2="200.20" y2="151.60" stroke="#333" stroke-width="0.8"/>
<line x1="202.00" y1="144.90" x2="202.00" y2="152.50" stroke="#333" stroke-width="0.8"/>
<line x1="200.50" y1="144.90" x2="203.50" y2="144.90" stroke="#333" stroke-width="0.8"/>
<line x1="200.50" y1="152.50" x2="203.50" y2="152.50" stroke="#333" stroke-width="0.8"/>
<line x1="205.70" y1="149.10" x2="205.70" y2="156.70" stroke="#333" stroke-width="0.8"/>
<line x1="204.20" y1="149.10" x2="207.20" y2="149.10" stroke="#333" stroke-width="0.8"/>
<line x1="204.20" y1="156.70" x2="207.20" y2="156.70" stroke="#333" stroke-width="0.8"/>
<line x1="209.60" y1="146.50" x2="209.60" y2="154.10" stroke="#333" stroke-width="0.8"/>
<line x1="208.10" y1="146.50" x2="211.10" y2="146.50" stroke="#333" stroke-width="0.8"/>
<line x1="208.10" y1="154.10" x2="211.10" y2="154.10" stroke="#333" stroke-width="0.8"/>
<line x1="213.40" y1="153.90" x2="213.40" y2="161.50" stroke="#333" stroke-width="0.8"/>
<line x1="211.90" y1="153.90" x2="214.90" y2="153.90" stroke="#333" stroke-width="0.8"/>
<line x1="211.90" y1="161.50" x2="214.90" y2="161.50" stroke="#333" stroke-width="0.8"/>
<line x1="221.10" y1="152.70" x2="221.10" y2="160.30" stroke="#333" stroke-width="0.8"/>
<line x1="219.60" y1="152.70" x2="222.60" y2="152.70" stroke="#333" stroke-width="0.8"/>
<line x1="219.60" y1="160.30" x2="222.60" y2="160.30" stroke="#333" stroke-width="0.8"/>
<line x1="229.70" y1="149.00" x2="229.70" y2="156.60" stroke="#333" stroke-width="0.8"/>
<line x1="228.20" y1="149.00" x2="231.20" y2="149.00" stroke="#333" stroke-width="0.8"/>
<line x1="228.20" y1="156.60" x2="231.20" y2="156.60" stroke="#333" stroke-width="0.8"/>
<line x1="236.50" y1="150.00" x2="236.50" y2="157.60" stroke="#333" stroke-width="0.8"/>
<line x1="235.00" y1="150.00" x2="238.00" y2="150.00" stroke="#333" stroke-width="0.8"/>
<line x1="235.00" y1="157.60" x2="238.00" y2="157.60" stroke="#333" stroke-width="0.8"/>
<line x1="244.20" y1="145.00" x2="244.20" y2="152.60" stroke="#333" stroke-width="0.8"/>
<line x1="242.70" y1="145.00" x2="245.70" y2="145.00" stroke="#333" stroke-width="0.8"/>
<line x1="242.70" y1="152.60" x2="245.70" y2="152.60" stroke="#333" stroke-width="0.8"/>
<line x1="251.50" y1="145.00" x2="251.50" y2="152.60" stroke="#333" stroke-width="0.8"/>
<line x1="250.00" y1="145.00" x2="253.00" y2="145.00" stroke="#333" stroke-width="0.8"/>
<line x1="250.00" y1="152.60" x2="253.00" y2="152.60" stroke="#333" stroke-width="0.8"/>
<line x1="259.20" y1="145.90" x2="259.20" y2="153.50" stroke="#333" stroke-width="0.8"/>
<line x1="257.70" y1="145.90" x2="260.70" y2="145.90" stroke="#333" stroke-width="0.8"/>
<line x1="257.70" y1="153.50" x2="260.70" y2="153.50" stroke="#333" stroke-width="0.8"/>
<line x1="266.90" y1="145.40" x2="266.90" y2="153.00" stroke="#333" stroke-width="0.8"/>
<line x1="265.40" y1="145.40" x2="268.40" y2="145.40" stroke="#333" stroke-width="0.8"/>
<line x1="265.40" y1="153.00" x2="268.40" y2="153.00" stroke="#333" stroke-width="0.8"/>
<line x1="276.50" y1="146.20" x2="276.50" y2="153.80" stroke="#333" stroke-width="0.8"/>
<line x1="275.00" y1="146.20" x2="278.00" y2="146.20" stroke="#333" stroke-width="0.8"/>
<line x1="275.00" y1="153.80" x2="278.00" y2="153.80" stroke="#333" stroke-width="0.8"/>
<line x1="282.30" y1="146.20" x2="282.30" y2="153.80" stroke="#333" stroke-width="0.8"/>
<line x1="280.80" y1="146.20" x2="283.80" y2="146.20" stroke="#333" stroke-width="0.8"/>
<line x1="280.80" y1="153.80" x2="283.80" y2="153.80" stroke="#333" stroke-width="0.8"/>
<polyline points="177.60,146.00 183.50,154.50 186.90,156.20 190.30,151.20 194.10,145.30 198.70,147.80 202.00,148.70 205.70,152.90 209.60,150.30 213.40,157.70 221.10,156.50 229.70,152.80 236.50,153.80 244.20,148.80 251.50,148.80 259.20,149.70 266.90,149.20 276.50,150.00 282.30,150.00" fill="none" stroke="#222" stroke-width="1.1"/>
<rect x="175.60" y="144.00" width="4.0" height="4.0" fill="#111"/>
<rect x="181.50" y="152.50" width="4.0" height="4.0" fill="#111"/>
<rect x="184.90" y="154.20" width="4.0" height="4.0" fill="#111"/>
<rect x="188.30" y="149.20" width="4.0" height="4.0" fill="#111"/>
<rect x="192.10" y="143.30" width="4.0" height="4.0" fill="#111"/>
<rect x="196.70" y="145.80" width="4.0" height="4.0" fill="#111"/>
<rect x="200.00" y="146.70" width="4.0" height="4.0" fill="#111"/>
<rect x="203.70" y="150.90" width="4.0" height="4.0" fill="#111"/>
<rect x="207.60" y="148.30" width="4.0" height="4.0" fill="#111"/>
<rect x="211.40" y="155.70" width="4.0" height="4.0" fill="#111"/>
<rect x="219.10" y="154.50" width="4.0" height="4.0" fill="#111"/>
<rect x="227.70" y="150.80" width="4.0" height="4.0" fill="#111"/>
<rect x="234.50" y="151.80" width="4.0" height="4.0" fill="#111"/>
<rect x="242.20" y="146.80" width="4.0" height="4.0" fill="#111"/>
<rect x="249.50" y="146.80" width="4.0" height="4.0" fill="#111"/>
<rect x="257.20" y="147.70" width="4.0" height="4.0" fill="#111"/>
<rect x="264.90" y="147.20" width="4.0" height="4.0" fill="#111"/>
<rect x="274.50" y="148.00" width="4.0" height="4.0" fill="#111"/>
<rect x="280.30" y="148.00" width="4.0" height="4.0" fill="#111"/>
<line x1="320.90" y1="120.00" x2="320.90" y2="193.20" stroke="#222" stroke-width="1.1"/>
<line x1="318.90" y1="120.88" x2="320.90" y2="120.88" stroke="#222" stroke-width="1.0"/>
<text x="318.80" y="123.68" font-size="8.4" text-anchor="end">8</text>
<line x1="318.90" y1="138.96" x2="320.90" y2="138.96" stroke="#222" stroke-width="1.0"/>
<text x="318.80" y="141.76" font-size="8.4" text-anchor="end">6</text>
<line x1="318.90" y1="157.04" x2="320.90" y2="157.04" stroke="#222" stroke-width="1.0"/>
<text x="318.80" y="159.84" font-size="8.4" text-anchor="end">4</text>
<line x1="318.90" y1="175.12" x2="320.90" y2="175.12" stroke="#222" stroke-width="1.0"/>
<text x="318.80" y="177.92" font-size="8.4" text-anchor="end">2</text>
<line x1="318.90" y1="193.20" x2="320.90" y2="193.20" stroke="#222" stroke-width="1.0"/>
<text x="318.80" y="196.00" font-size="8.4" text-anchor="end">0</text>
<line x1="320.90" y1="193.20" x2="430.00" y2="193.20" stroke="#222" stroke-width="1.1"/>
<line x1="320.90" y1="193.20" x2="320.90" y2="195.20" stroke="#222" stroke-width="1.0"/>
<text x="320.90" y="203.10" font-size="8.4" text-anchor="middle">0</text>
<line x1="348.05" y1="193.20" x2="348.05" y2="195.20" stroke="#222" stroke-width="1.0"/>
<text x="348.05" y="203.10" font-size="8.4" text-anchor="middle">25</text>
<line x1="375.20" y1="193.20" x2="375.20" y2="195.20" stroke="#222" stroke-width="1.0"/>
<text x="375.20" y="203.10" font-size="8.4" text-anchor="middle">50</text>
<line x1="402.35" y1="193.20" x2="402.35" y2="195.20" stroke="#222" stroke-width="1.0"/>
<text x="402.35" y="203.10" font-size="8.4" text-anchor="middle">75</text>
<line x1="429.50" y1="193.20" x2="429.50" y2="195.20" stroke="#222" stroke-width="1.0"/>
<text x="429.50" y="203.10" font-size="8.4" text-anchor="middle">100</text>
<text x="375.20" y="214.00" font-size="8.85" text-anchor="middle">Days After Transplant</text>
<text x="308.30" y="155.50" font-size="8.85" text-anchor="middle" transform="rotate(-90 308.30 155.50)">Clinical score</text>
<polyline points="320.50,192.00 322.60,186.00 326.80,146.10 330.50,148.30 334.00,150.00 338.20,143.10" fill="none" stroke="#666" stroke-width="0.9" stroke-dasharray="1.2,1.2"/>
<circle cx="320.50" cy="192.00" r="2.25" fill="#fff" stroke="#606060" stroke-width="0.85"/>
<circle cx="322.60" cy="186.00" r="2.25" fill="#fff" stroke="#606060" stroke-width="0.85"/>
<circle cx="326.80" cy="146.10" r="2.25" fill="#fff" stroke="#606060" stroke-width="0.85"/>
<circle cx="330.50" cy="148.30" r="2.25" fill="#fff" stroke="#606060" stroke-width="0.85"/>
<circle cx="334.00" cy="150.00" r="2.25" fill="#fff" stroke="#606060" stroke-width="0.85"/>
<circle cx="338.20" cy="143.10" r="2.25" fill="#fff" stroke="#606060" stroke-width="0.85"/>
<line x1="320.50" y1="191.50" x2="320.50" y2="192.50" stroke="#888" stroke-width="0.8"/>
<line x1="319.00" y1="191.50" x2="322.00" y2="191.50" stroke="#888" stroke-width="0.8"/>
<line x1="319.00" y1="192.50" x2="322.00" y2="192.50" stroke="#888" stroke-width="0.8"/>
<line x1="322.60" y1="186.10" x2="322.60" y2="188.10" stroke="#888" stroke-width="0.8"/>
<line x1="321.10" y1="186.10" x2="324.10" y2="186.10" stroke="#888" stroke-width="0.8"/>
<line x1="321.10" y1="188.10" x2="324.10" y2="188.10" stroke="#888" stroke-width="0.8"/>
<line x1="327.10" y1="158.20" x2="327.10" y2="164.20" stroke="#888" stroke-width="0.8"/>
<line x1="325.60" y1="158.20" x2="328.60" y2="158.20" stroke="#888" stroke-width="0.8"/>
<line x1="325.60" y1="164.20" x2="328.60" y2="164.20" stroke="#888" stroke-width="0.8"/>
<line x1="330.70" y1="170.40" x2="330.70" y2="174.40" stroke="#888" stroke-width="0.8"/>
<line x1="329.20" y1="170.40" x2="332.20" y2="170.40" stroke="#888" stroke-width="0.8"/>
<line x1="329.20" y1="174.40" x2="332.20" y2="174.40" stroke="#888" stroke-width="0.8"/>
<line x1="334.10" y1="173.50" x2="334.10" y2="177.50" stroke="#888" stroke-width="0.8"/>
<line x1="332.60" y1="173.50" x2="335.60" y2="173.50" stroke="#888" stroke-width="0.8"/>
<line x1="332.60" y1="177.50" x2="335.60" y2="177.50" stroke="#888" stroke-width="0.8"/>
<line x1="338.30" y1="186.50" x2="338.30" y2="188.50" stroke="#888" stroke-width="0.8"/>
<line x1="336.80" y1="186.50" x2="339.80" y2="186.50" stroke="#888" stroke-width="0.8"/>
<line x1="336.80" y1="188.50" x2="339.80" y2="188.50" stroke="#888" stroke-width="0.8"/>
<line x1="341.30" y1="182.30" x2="341.30" y2="184.30" stroke="#888" stroke-width="0.8"/>
<line x1="339.80" y1="182.30" x2="342.80" y2="182.30" stroke="#888" stroke-width="0.8"/>
<line x1="339.80" y1="184.30" x2="342.80" y2="184.30" stroke="#888" stroke-width="0.8"/>
<line x1="344.80" y1="176.30" x2="344.80" y2="178.30" stroke="#888" stroke-width="0.8"/>
<line x1="343.30" y1="176.30" x2="346.30" y2="176.30" stroke="#888" stroke-width="0.8"/>
<line x1="343.30" y1="178.30" x2="346.30" y2="178.30" stroke="#888" stroke-width="0.8"/>
<line x1="349.20" y1="176.30" x2="349.20" y2="178.30" stroke="#888" stroke-width="0.8"/>
<line x1="347.70" y1="176.30" x2="350.70" y2="176.30" stroke="#888" stroke-width="0.8"/>
<line x1="347.70" y1="178.30" x2="350.70" y2="178.30" stroke="#888" stroke-width="0.8"/>
<line x1="356.90" y1="178.40" x2="356.90" y2="180.40" stroke="#888" stroke-width="0.8"/>
<line x1="355.40" y1="178.40" x2="358.40" y2="178.40" stroke="#888" stroke-width="0.8"/>
<line x1="355.40" y1="180.40" x2="358.40" y2="180.40" stroke="#888" stroke-width="0.8"/>
<line x1="364.40" y1="171.80" x2="364.40" y2="173.80" stroke="#888" stroke-width="0.8"/>
<line x1="362.90" y1="171.80" x2="365.90" y2="171.80" stroke="#888" stroke-width="0.8"/>
<line x1="362.90" y1="173.80" x2="365.90" y2="173.80" stroke="#888" stroke-width="0.8"/>
<line x1="373.10" y1="162.70" x2="373.10" y2="169.70" stroke="#888" stroke-width="0.8"/>
<line x1="371.60" y1="162.70" x2="374.60" y2="162.70" stroke="#888" stroke-width="0.8"/>
<line x1="371.60" y1="169.70" x2="374.60" y2="169.70" stroke="#888" stroke-width="0.8"/>
<line x1="379.20" y1="167.60" x2="379.20" y2="174.00" stroke="#888" stroke-width="0.8"/>
<line x1="377.70" y1="167.60" x2="380.70" y2="167.60" stroke="#888" stroke-width="0.8"/>
<line x1="377.70" y1="174.00" x2="380.70" y2="174.00" stroke="#888" stroke-width="0.8"/>
<line x1="386.90" y1="172.30" x2="386.90" y2="175.30" stroke="#888" stroke-width="0.8"/>
<line x1="385.40" y1="172.30" x2="388.40" y2="172.30" stroke="#888" stroke-width="0.8"/>
<line x1="385.40" y1="175.30" x2="388.40" y2="175.30" stroke="#888" stroke-width="0.8"/>
<line x1="395.10" y1="177.50" x2="395.10" y2="182.50" stroke="#888" stroke-width="0.8"/>
<line x1="393.60" y1="177.50" x2="396.60" y2="177.50" stroke="#888" stroke-width="0.8"/>
<line x1="393.60" y1="182.50" x2="396.60" y2="182.50" stroke="#888" stroke-width="0.8"/>
<line x1="402.30" y1="172.30" x2="402.30" y2="175.30" stroke="#888" stroke-width="0.8"/>
<line x1="400.80" y1="172.30" x2="403.80" y2="172.30" stroke="#888" stroke-width="0.8"/>
<line x1="400.80" y1="175.30" x2="403.80" y2="175.30" stroke="#888" stroke-width="0.8"/>
<line x1="409.50" y1="173.90" x2="409.50" y2="176.90" stroke="#888" stroke-width="0.8"/>
<line x1="408.00" y1="173.90" x2="411.00" y2="173.90" stroke="#888" stroke-width="0.8"/>
<line x1="408.00" y1="176.90" x2="411.00" y2="176.90" stroke="#888" stroke-width="0.8"/>
<line x1="419.70" y1="167.80" x2="419.70" y2="176.80" stroke="#888" stroke-width="0.8"/>
<line x1="418.20" y1="167.80" x2="421.20" y2="167.80" stroke="#888" stroke-width="0.8"/>
<line x1="418.20" y1="176.80" x2="421.20" y2="176.80" stroke="#888" stroke-width="0.8"/>
<line x1="425.80" y1="169.60" x2="425.80" y2="177.20" stroke="#888" stroke-width="0.8"/>
<line x1="424.30" y1="169.60" x2="427.30" y2="169.60" stroke="#888" stroke-width="0.8"/>
<line x1="424.30" y1="177.20" x2="427.30" y2="177.20" stroke="#888" stroke-width="0.8"/>
<polyline points="320.50,192.00 322.60,187.10 327.10,161.20 330.70,172.40 334.10,175.50 338.30,187.50 341.30,183.30 344.80,177.30 349.20,177.30 356.90,179.40 364.40,172.80 373.10,166.20 379.20,170.80 386.90,173.80 395.10,180.00 402.30,173.80 409.50,175.40 419.70,172.30 425.80,173.40" fill="none" stroke="#888" stroke-width="1.1"/>
<circle cx="320.50" cy="192.00" r="2.2" fill="#707070"/>
<circle cx="322.60" cy="187.10" r="2.2" fill="#707070"/>
<circle cx="327.10" cy="161.20" r="2.2" fill="#707070"/>
<circle cx="330.70" cy="172.40" r="2.2" fill="#707070"/>
<circle cx="334.10" cy="175.50" r="2.2" fill="#707070"/>
<circle cx="338.30" cy="187.50" r="2.2" fill="#707070"/>
<circle cx="341.30" cy="183.30" r="2.2" fill="#707070"/>
<circle cx="344.80" cy="177.30" r="2.2" fill="#707070"/>
<circle cx="349.20" cy="177.30" r="2.2" fill="#707070"/>
<circle cx="356.90" cy="179.40" r="2.2" fill="#707070"/>
<circle cx="364.40" cy="172.80" r="2.2" fill="#707070"/>
<circle cx="373.10" cy="166.20" r="2.2" fill="#707070"/>
<circle cx="379.20" cy="170.80" r="2.2" fill="#707070"/>
<circle cx="386.90" cy="173.80" r="2.2" fill="#707070"/>
<circle cx="395.10" cy="180.00" r="2.2" fill="#707070"/>
<circle cx="402.30" cy="173.80" r="2.2" fill="#707070"/>
<circle cx="409.50" cy="175.40" r="2.2" fill="#707070"/>
<circle cx="419.70" cy="172.30" r="2.2" fill="#707070"/>
<circle cx="425.80" cy="173.40" r="2.2" fill="#707070"/>
<polyline points="320.50,192.50 322.60,187.80 327.10,182.90 330.70,186.40 334.10,189.50 338.30,191.70 341.30,191.70 344.80,192.30 349.20,187.50 356.90,186.70 364.40,186.40 373.10,186.90 379.20,188.50 386.90,190.80 395.10,191.50 402.30,190.80 409.50,190.80 419.70,188.50 425.80,189.70" fill="none" stroke="#222" stroke-width="1.1"/>
<rect x="318.50" y="190.50" width="4.0" height="4.0" fill="#111"/>
<rect x="320.60" y="185.80" width="4.0" height="4.0" fill="#111"/>
<rect x="325.10" y="180.90" width="4.0" height="4.0" fill="#111"/>
<rect x="328.70" y="184.40" width="4.0" height="4.0" fill="#111"/>
<rect x="332.10" y="187.50" width="4.0" height="4.0" fill="#111"/>
<rect x="336.30" y="189.70" width="4.0" height="4.0" fill="#111"/>
<rect x="339.30" y="189.70" width="4.0" height="4.0" fill="#111"/>
<rect x="342.80" y="190.30" width="4.0" height="4.0" fill="#111"/>
<rect x="347.20" y="185.50" width="4.0" height="4.0" fill="#111"/>
<rect x="354.90" y="184.70" width="4.0" height="4.0" fill="#111"/>
<rect x="362.40" y="184.40" width="4.0" height="4.0" fill="#111"/>
<rect x="371.10" y="184.90" width="4.0" height="4.0" fill="#111"/>
<rect x="377.20" y="186.50" width="4.0" height="4.0" fill="#111"/>
<rect x="384.90" y="188.80" width="4.0" height="4.0" fill="#111"/>
<rect x="393.10" y="189.50" width="4.0" height="4.0" fill="#111"/>
<rect x="400.30" y="188.80" width="4.0" height="4.0" fill="#111"/>
<rect x="407.50" y="188.80" width="4.0" height="4.0" fill="#111"/>
<rect x="417.70" y="186.50" width="4.0" height="4.0" fill="#111"/>
<rect x="423.80" y="187.70" width="4.0" height="4.0" fill="#111"/>
<text x="0.50" y="238.50" font-size="10.5" text-anchor="start" font-weight="bold">C</text>
<text x="51.60" y="239.70" font-size="8.3" text-anchor="start" font-weight="bold">B6</text>
<line x1="65.00" y1="237.80" x2="71.20" y2="237.80" stroke="#666" stroke-width="1.5"/>
<path d="M70.40,235.90 L73.40,237.80 L70.40,239.70 Z" fill="#222"/>
<text x="77.60" y="239.70" font-size="8.3" text-anchor="start" font-weight="bold">B10.BR</text>
<text x="200.10" y="238.90" font-size="8.3" text-anchor="start" font-weight="bold">B6</text>
<line x1="213.60" y1="237.00" x2="219.80" y2="237.00" stroke="#666" stroke-width="1.5"/>
<path d="M219.00,235.10 L222.00,237.00 L219.00,238.90 Z" fill="#222"/>
<text x="225.30" y="238.90" font-size="8.3" text-anchor="start" font-weight="bold">BALB/c</text>
<line x1="29.20" y1="247.90" x2="29.20" y2="321.30" stroke="#222" stroke-width="1.1"/>
<line x1="27.20" y1="321.30" x2="29.20" y2="321.30" stroke="#222" stroke-width="1.0"/>
<text x="27.10" y="324.10" font-size="8.4" text-anchor="end">0</text>
<line x1="27.20" y1="303.10" x2="29.20" y2="303.10" stroke="#222" stroke-width="1.0"/>
<text x="27.10" y="305.90" font-size="8.4" text-anchor="end">1</text>
<line x1="27.20" y1="284.90" x2="29.20" y2="284.90" stroke="#222" stroke-width="1.0"/>
<text x="27.10" y="287.70" font-size="8.4" text-anchor="end">2</text>
<line x1="27.20" y1="266.70" x2="29.20" y2="266.70" stroke="#222" stroke-width="1.0"/>
<text x="27.10" y="269.50" font-size="8.4" text-anchor="end">3</text>
<line x1="27.20" y1="248.50" x2="29.20" y2="248.50" stroke="#222" stroke-width="1.0"/>
<text x="27.10" y="251.30" font-size="8.4" text-anchor="end">4</text>
<line x1="29.20" y1="321.30" x2="138.50" y2="321.30" stroke="#222" stroke-width="1.1"/>
<line x1="40.30" y1="321.30" x2="40.30" y2="323.30" stroke="#222" stroke-width="1.0"/>
<line x1="62.10" y1="321.30" x2="62.10" y2="323.30" stroke="#222" stroke-width="1.0"/>
<line x1="83.90" y1="321.30" x2="83.90" y2="323.30" stroke="#222" stroke-width="1.0"/>
<line x1="105.70" y1="321.30" x2="105.70" y2="323.30" stroke="#222" stroke-width="1.0"/>
<line x1="127.50" y1="321.30" x2="127.50" y2="323.30" stroke="#222" stroke-width="1.0"/>
<line x1="34.40" y1="310.38" x2="34.40" y2="303.10" stroke="#222" stroke-width="0.8"/>
<line x1="32.95" y1="303.10" x2="35.85" y2="303.10" stroke="#222" stroke-width="0.8"/>
<rect x="32.75" y="310.78" width="3.30" height="10.52" fill="#fff" stroke="#222" stroke-width="0.8"/>
<line x1="40.30" y1="277.62" x2="40.30" y2="271.25" stroke="#222" stroke-width="0.8"/>
<line x1="38.85" y1="271.25" x2="41.75" y2="271.25" stroke="#222" stroke-width="0.8"/>
<rect x="38.65" y="278.02" width="3.30" height="43.28" fill="#7a7a7a" stroke="#3a3a3a" stroke-width="0.8"/>
<line x1="46.20" y1="312.20" x2="46.20" y2="308.56" stroke="#222" stroke-width="0.8"/>
<line x1="44.75" y1="308.56" x2="47.65" y2="308.56" stroke="#222" stroke-width="0.8"/>
<rect x="44.15" y="312.20" width="4.10" height="9.10" fill="#000"/>
<line x1="56.20" y1="303.10" x2="56.20" y2="296.73" stroke="#222" stroke-width="0.8"/>
<line x1="54.75" y1="296.73" x2="57.65" y2="296.73" stroke="#222" stroke-width="0.8"/>
<rect x="54.55" y="303.50" width="3.30" height="17.80" fill="#fff" stroke="#222" stroke-width="0.8"/>
<line x1="62.10" y1="279.44" x2="62.10" y2="275.80" stroke="#222" stroke-width="0.8"/>
<line x1="60.65" y1="275.80" x2="63.55" y2="275.80" stroke="#222" stroke-width="0.8"/>
<rect x="60.45" y="279.84" width="3.30" height="41.46" fill="#7a7a7a" stroke="#3a3a3a" stroke-width="0.8"/>
<line x1="68.00" y1="312.20" x2="68.00" y2="307.65" stroke="#222" stroke-width="0.8"/>
<line x1="66.55" y1="307.65" x2="69.45" y2="307.65" stroke="#222" stroke-width="0.8"/>
<rect x="65.95" y="312.20" width="4.10" height="9.10" fill="#000"/>
<line x1="78.00" y1="310.38" x2="78.00" y2="308.56" stroke="#222" stroke-width="0.8"/>
<line x1="76.55" y1="308.56" x2="79.45" y2="308.56" stroke="#222" stroke-width="0.8"/>
<rect x="76.35" y="310.78" width="3.30" height="10.52" fill="#fff" stroke="#222" stroke-width="0.8"/>
<line x1="83.90" y1="315.84" x2="83.90" y2="311.29" stroke="#222" stroke-width="0.8"/>
<line x1="82.45" y1="311.29" x2="85.35" y2="311.29" stroke="#222" stroke-width="0.8"/>
<rect x="82.25" y="316.24" width="3.30" height="5.06" fill="#7a7a7a" stroke="#3a3a3a" stroke-width="0.8"/>
<line x1="89.80" y1="312.20" x2="89.80" y2="306.74" stroke="#222" stroke-width="0.8"/>
<line x1="88.35" y1="306.74" x2="91.25" y2="306.74" stroke="#222" stroke-width="0.8"/>
<rect x="87.75" y="312.20" width="4.10" height="9.10" fill="#000"/>
<line x1="99.80" y1="312.20" x2="99.80" y2="309.47" stroke="#222" stroke-width="0.8"/>
<line x1="98.35" y1="309.47" x2="101.25" y2="309.47" stroke="#222" stroke-width="0.8"/>
<rect x="98.15" y="312.60" width="3.30" height="8.70" fill="#fff" stroke="#222" stroke-width="0.8"/>
<line x1="105.70" y1="290.36" x2="105.70" y2="283.99" stroke="#222" stroke-width="0.8"/>
<line x1="104.25" y1="283.99" x2="107.15" y2="283.99" stroke="#222" stroke-width="0.8"/>
<rect x="104.05" y="290.76" width="3.30" height="30.54" fill="#7a7a7a" stroke="#3a3a3a" stroke-width="0.8"/>
<line x1="111.60" y1="312.20" x2="111.60" y2="309.47" stroke="#222" stroke-width="0.8"/>
<line x1="110.15" y1="309.47" x2="113.05" y2="309.47" stroke="#222" stroke-width="0.8"/>
<rect x="109.55" y="312.20" width="4.10" height="9.10" fill="#000"/>
<line x1="121.60" y1="309.47" x2="121.60" y2="306.74" stroke="#222" stroke-width="0.8"/>
<line x1="120.15" y1="306.74" x2="123.05" y2="306.74" stroke="#222" stroke-width="0.8"/>
<rect x="119.95" y="309.87" width="3.30" height="11.43" fill="#fff" stroke="#222" stroke-width="0.8"/>
<line x1="127.50" y1="261.24" x2="127.50" y2="253.05" stroke="#222" stroke-width="0.8"/>
<line x1="126.05" y1="253.05" x2="128.95" y2="253.05" stroke="#222" stroke-width="0.8"/>
<rect x="125.85" y="261.64" width="3.30" height="59.66" fill="#7a7a7a" stroke="#3a3a3a" stroke-width="0.8"/>
<line x1="133.40" y1="299.46" x2="133.40" y2="291.27" stroke="#222" stroke-width="0.8"/>
<line x1="131.95" y1="291.27" x2="134.85" y2="291.27" stroke="#222" stroke-width="0.8"/>
<rect x="131.35" y="299.46" width="4.10" height="21.84" fill="#000"/>
<line x1="37.20" y1="251.50" x2="45.90" y2="251.50" stroke="#111" stroke-width="1.3"/>
<circle cx="40.10" cy="248.00" r="1.2" fill="#111"/>
<circle cx="43.40" cy="248.00" r="1.2" fill="#111"/>
<line x1="61.00" y1="251.50" x2="69.60" y2="251.50" stroke="#111" stroke-width="1.3"/>
<circle cx="62.20" cy="248.00" r="1.2" fill="#111"/>
<circle cx="65.50" cy="248.00" r="1.2" fill="#111"/>
<circle cx="68.80" cy="248.00" r="1.2" fill="#111"/>
<line x1="82.20" y1="251.50" x2="90.90" y2="251.50" stroke="#111" stroke-width="1.3"/>
<circle cx="85.10" cy="248.00" r="1.2" fill="#111"/>
<circle cx="88.40" cy="248.00" r="1.2" fill="#111"/>
<line x1="104.20" y1="251.50" x2="113.50" y2="251.50" stroke="#111" stroke-width="1.3"/>
<circle cx="109.05" cy="248.00" r="1.2" fill="#111"/>
<line x1="126.30" y1="251.50" x2="135.80" y2="251.50" stroke="#111" stroke-width="1.3"/>
<circle cx="131.25" cy="248.00" r="1.2" fill="#111"/>
<text x="16.30" y="283.50" font-size="8.95" text-anchor="middle" transform="rotate(-90 16.30 283.50)">Pathology score</text>
<line x1="177.60" y1="246.75" x2="177.60" y2="320.60" stroke="#222" stroke-width="1.1"/>
<line x1="175.60" y1="320.60" x2="177.60" y2="320.60" stroke="#222" stroke-width="1.0"/>
<text x="175.50" y="323.40" font-size="8.4" text-anchor="end">0</text>
<line x1="175.60" y1="305.95" x2="177.60" y2="305.95" stroke="#222" stroke-width="1.0"/>
<text x="175.50" y="308.75" font-size="8.4" text-anchor="end">1</text>
<line x1="175.60" y1="291.30" x2="177.60" y2="291.30" stroke="#222" stroke-width="1.0"/>
<text x="175.50" y="294.10" font-size="8.4" text-anchor="end">2</text>
<line x1="175.60" y1="276.65" x2="177.60" y2="276.65" stroke="#222" stroke-width="1.0"/>
<text x="175.50" y="279.45" font-size="8.4" text-anchor="end">3</text>
<line x1="175.60" y1="262.00" x2="177.60" y2="262.00" stroke="#222" stroke-width="1.0"/>
<text x="175.50" y="264.80" font-size="8.4" text-anchor="end">4</text>
<line x1="175.60" y1="247.35" x2="177.60" y2="247.35" stroke="#222" stroke-width="1.0"/>
<text x="175.50" y="250.15" font-size="8.4" text-anchor="end">5</text>
<line x1="177.60" y1="320.60" x2="287.00" y2="320.60" stroke="#222" stroke-width="1.1"/>
<line x1="188.50" y1="320.60" x2="188.50" y2="322.60" stroke="#222" stroke-width="1.0"/>
<line x1="210.50" y1="320.60" x2="210.50" y2="322.60" stroke="#222" stroke-width="1.0"/>
<line x1="232.40" y1="320.60" x2="232.40" y2="322.60" stroke="#222" stroke-width="1.0"/>
<line x1="254.30" y1="320.60" x2="254.30" y2="322.60" stroke="#222" stroke-width="1.0"/>
<line x1="276.20" y1="320.60" x2="276.20" y2="322.60" stroke="#222" stroke-width="1.0"/>
<line x1="182.60" y1="311.08" x2="182.60" y2="309.61" stroke="#222" stroke-width="0.8"/>
<line x1="181.15" y1="309.61" x2="184.05" y2="309.61" stroke="#222" stroke-width="0.8"/>
<rect x="180.95" y="311.48" width="3.30" height="9.12" fill="#fff" stroke="#222" stroke-width="0.8"/>
<line x1="188.50" y1="305.95" x2="188.50" y2="299.36" stroke="#222" stroke-width="0.8"/>
<line x1="187.05" y1="299.36" x2="189.95" y2="299.36" stroke="#222" stroke-width="0.8"/>
<rect x="186.85" y="306.35" width="3.30" height="14.25" fill="#7a7a7a" stroke="#3a3a3a" stroke-width="0.8"/>
<line x1="194.40" y1="304.49" x2="194.40" y2="300.82" stroke="#222" stroke-width="0.8"/>
<line x1="192.95" y1="300.82" x2="195.85" y2="300.82" stroke="#222" stroke-width="0.8"/>
<rect x="192.35" y="304.49" width="4.10" height="16.12" fill="#000"/>
<line x1="204.60" y1="305.95" x2="204.60" y2="303.02" stroke="#222" stroke-width="0.8"/>
<line x1="203.15" y1="303.02" x2="206.05" y2="303.02" stroke="#222" stroke-width="0.8"/>
<rect x="202.95" y="306.35" width="3.30" height="14.25" fill="#fff" stroke="#222" stroke-width="0.8"/>
<line x1="210.50" y1="302.29" x2="210.50" y2="292.77" stroke="#222" stroke-width="0.8"/>
<line x1="209.05" y1="292.77" x2="211.95" y2="292.77" stroke="#222" stroke-width="0.8"/>
<rect x="208.85" y="302.69" width="3.30" height="17.91" fill="#7a7a7a" stroke="#3a3a3a" stroke-width="0.8"/>
<line x1="216.40" y1="308.15" x2="216.40" y2="304.49" stroke="#222" stroke-width="0.8"/>
<line x1="214.95" y1="304.49" x2="217.85" y2="304.49" stroke="#222" stroke-width="0.8"/>
<rect x="214.35" y="308.15" width="4.10" height="12.45" fill="#000"/>
<rect x="224.85" y="306.35" width="3.30" height="14.25" fill="#fff" stroke="#222" stroke-width="0.8"/>
<line x1="232.40" y1="281.78" x2="232.40" y2="281.05" stroke="#222" stroke-width="0.8"/>
<line x1="230.95" y1="281.05" x2="233.85" y2="281.05" stroke="#222" stroke-width="0.8"/>
<rect x="230.75" y="282.18" width="3.30" height="38.42" fill="#7a7a7a" stroke="#3a3a3a" stroke-width="0.8"/>
<line x1="238.30" y1="298.62" x2="238.30" y2="294.23" stroke="#222" stroke-width="0.8"/>
<line x1="236.85" y1="294.23" x2="239.75" y2="294.23" stroke="#222" stroke-width="0.8"/>
<rect x="236.25" y="298.62" width="4.10" height="21.98" fill="#000"/>
<line x1="248.40" y1="298.62" x2="248.40" y2="297.89" stroke="#222" stroke-width="0.8"/>
<line x1="246.95" y1="297.89" x2="249.85" y2="297.89" stroke="#222" stroke-width="0.8"/>
<rect x="246.75" y="299.02" width="3.30" height="21.58" fill="#fff" stroke="#222" stroke-width="0.8"/>
<line x1="254.30" y1="298.62" x2="254.30" y2="297.89" stroke="#222" stroke-width="0.8"/>
<line x1="252.85" y1="297.89" x2="255.75" y2="297.89" stroke="#222" stroke-width="0.8"/>
<rect x="252.65" y="299.02" width="3.30" height="21.58" fill="#7a7a7a" stroke="#3a3a3a" stroke-width="0.8"/>
<line x1="260.20" y1="297.16" x2="260.20" y2="293.50" stroke="#222" stroke-width="0.8"/>
<line x1="258.75" y1="293.50" x2="261.65" y2="293.50" stroke="#222" stroke-width="0.8"/>
<rect x="258.15" y="297.16" width="4.10" height="23.44" fill="#000"/>
<line x1="270.30" y1="297.89" x2="270.30" y2="295.70" stroke="#222" stroke-width="0.8"/>
<line x1="268.85" y1="295.70" x2="271.75" y2="295.70" stroke="#222" stroke-width="0.8"/>
<rect x="268.65" y="298.29" width="3.30" height="22.31" fill="#fff" stroke="#222" stroke-width="0.8"/>
<line x1="276.20" y1="263.47" x2="276.20" y2="262.29" stroke="#222" stroke-width="0.8"/>
<line x1="274.75" y1="262.29" x2="277.65" y2="262.29" stroke="#222" stroke-width="0.8"/>
<rect x="274.55" y="263.87" width="3.30" height="56.73" fill="#7a7a7a" stroke="#3a3a3a" stroke-width="0.8"/>
<line x1="282.10" y1="288.37" x2="282.10" y2="283.68" stroke="#222" stroke-width="0.8"/>
<line x1="280.65" y1="283.68" x2="283.55" y2="283.68" stroke="#222" stroke-width="0.8"/>
<rect x="280.05" y="288.37" width="4.10" height="32.23" fill="#000"/>
<line x1="188.10" y1="254.40" x2="196.90" y2="254.40" stroke="#111" stroke-width="1.3"/>
<text x="193.10" y="251.60" font-size="7.8" text-anchor="middle">ns</text>
<line x1="209.40" y1="254.40" x2="218.10" y2="254.40" stroke="#111" stroke-width="1.3"/>
<text x="214.35" y="251.60" font-size="7.8" text-anchor="middle">ns</text>
<line x1="231.30" y1="254.40" x2="240.00" y2="254.40" stroke="#111" stroke-width="1.3"/>
<circle cx="236.05" cy="251.00" r="1.2" fill="#111"/>
<line x1="253.30" y1="254.40" x2="262.30" y2="254.40" stroke="#111" stroke-width="1.3"/>
<text x="258.40" y="251.60" font-size="7.8" text-anchor="middle">ns</text>
<line x1="275.10" y1="254.40" x2="284.00" y2="254.40" stroke="#111" stroke-width="1.3"/>
<circle cx="278.30" cy="251.00" r="1.2" fill="#111"/>
<circle cx="281.60" cy="251.00" r="1.2" fill="#111"/>
<text x="165.60" y="283.20" font-size="8.95" text-anchor="middle" transform="rotate(-90 165.60 283.20)">Pathology score</text>
<text x="41.30" y="330.60" font-size="8.4" text-anchor="end" transform="rotate(-30 41.30 330.60)">Lung</text>
<text x="63.10" y="330.60" font-size="8.4" text-anchor="end" transform="rotate(-30 63.10 330.60)">Liver</text>
<text x="84.90" y="330.60" font-size="8.4" text-anchor="end" transform="rotate(-30 84.90 330.60)">Spleen</text>
<text x="106.70" y="330.60" font-size="8.4" text-anchor="end" transform="rotate(-30 106.70 330.60)">Small intestine</text>
<text x="128.50" y="330.60" font-size="8.4" text-anchor="end" transform="rotate(-30 128.50 330.60)">Colon</text>
<text x="189.50" y="329.90" font-size="8.4" text-anchor="end" transform="rotate(-30 189.50 329.90)">Lung</text>
<text x="211.50" y="329.90" font-size="8.4" text-anchor="end" transform="rotate(-30 211.50 329.90)">Liver</text>
<text x="233.40" y="329.90" font-size="8.4" text-anchor="end" transform="rotate(-30 233.40 329.90)">Spleen</text>
<text x="255.30" y="329.90" font-size="8.4" text-anchor="end" transform="rotate(-30 255.30 329.90)">Small intestine</text>
<text x="277.20" y="329.90" font-size="8.4" text-anchor="end" transform="rotate(-30 277.20 329.90)">Colon</text>
<rect x="294.20" y="251.50" width="7.80" height="7.40" fill="#fff" stroke="#333" stroke-width="0.9"/>
<rect x="294.20" y="262.20" width="7.80" height="6.80" fill="#7a7a7a" stroke="#444" stroke-width="0.8"/>
<rect x="293.80" y="272.40" width="8.60" height="8.80" fill="#000"/>
<text x="306.00" y="258.60" font-size="8.9" text-anchor="start">TCD-BM only</text>
<text x="306.00" y="268.80" font-size="8.9" text-anchor="start">dnRARα</text>
<text x="306.00" y="279.60" font-size="8.9" text-anchor="start">dnRARαCD4<tspan font-size="6.6" dy="-3.6">Cre</tspan></text>
<text x="373.80" y="238.00" font-size="10.5" text-anchor="start" font-weight="bold">D</text>
<line x1="409.60" y1="248.00" x2="409.60" y2="320.10" stroke="#222" stroke-width="1.1"/>
<line x1="407.60" y1="248.70" x2="409.60" y2="248.70" stroke="#222" stroke-width="1.0"/>
<text x="407.50" y="251.50" font-size="8.4" text-anchor="end">60</text>
<line x1="407.60" y1="272.50" x2="409.60" y2="272.50" stroke="#222" stroke-width="1.0"/>
<text x="407.50" y="275.30" font-size="8.4" text-anchor="end">40</text>
<line x1="407.60" y1="296.30" x2="409.60" y2="296.30" stroke="#222" stroke-width="1.0"/>
<text x="407.50" y="299.10" font-size="8.4" text-anchor="end">20</text>
<line x1="407.60" y1="320.10" x2="409.60" y2="320.10" stroke="#222" stroke-width="1.0"/>
<text x="407.50" y="322.90" font-size="8.4" text-anchor="end">0</text>
<line x1="409.60" y1="320.10" x2="518.50" y2="320.10" stroke="#222" stroke-width="1.1"/>
<line x1="428.00" y1="320.10" x2="428.00" y2="322.10" stroke="#222" stroke-width="1.0"/>
<line x1="465.00" y1="320.10" x2="465.00" y2="322.10" stroke="#222" stroke-width="1.0"/>
<line x1="501.00" y1="320.10" x2="501.00" y2="322.10" stroke="#222" stroke-width="1.0"/>
<text x="392.60" y="283.40" font-size="8.65" text-anchor="middle" transform="rotate(-90 392.60 283.40)">FITC-Dextran (μg/ml)</text>
<rect x="420.10" y="317.90" width="4.2" height="4.2" fill="#000"/>
<rect x="423.10" y="312.70" width="4.2" height="4.2" fill="#000"/>
<rect x="426.20" y="317.90" width="4.2" height="4.2" fill="#000"/>
<rect x="430.20" y="315.90" width="4.2" height="4.2" fill="#000"/>
<rect x="433.20" y="317.90" width="4.2" height="4.2" fill="#000"/>
<line x1="416.40" y1="318.80" x2="440.30" y2="318.80" stroke="#111" stroke-width="1.0"/>
<circle cx="458.00" cy="260.20" r="2.3" fill="#fff" stroke="#333" stroke-width="1.0"/>
<circle cx="464.30" cy="260.20" r="2.3" fill="#fff" stroke="#333" stroke-width="1.0"/>
<circle cx="470.60" cy="258.90" r="2.3" fill="#fff" stroke="#333" stroke-width="1.0"/>
<circle cx="465.00" cy="274.00" r="2.3" fill="#fff" stroke="#333" stroke-width="1.0"/>
<circle cx="465.00" cy="284.10" r="2.3" fill="#fff" stroke="#333" stroke-width="1.0"/>
<circle cx="468.00" cy="307.50" r="2.3" fill="#fff" stroke="#333" stroke-width="1.0"/>
<circle cx="461.80" cy="312.30" r="2.3" fill="#fff" stroke="#333" stroke-width="1.0"/>
<line x1="452.90" y1="279.00" x2="476.90" y2="279.00" stroke="#111" stroke-width="1.0"/>
<circle cx="500.80" cy="304.20" r="2.2" fill="#000"/>
<circle cx="500.80" cy="313.00" r="2.2" fill="#000"/>
<circle cx="493.70" cy="320.00" r="2.2" fill="#000"/>
<circle cx="500.80" cy="320.00" r="2.2" fill="#000"/>
<circle cx="507.80" cy="320.00" r="2.2" fill="#000"/>
<line x1="489.50" y1="315.60" x2="512.90" y2="315.60" stroke="#111" stroke-width="1.0"/>
<line x1="463.50" y1="246.30" x2="500.80" y2="246.30" stroke="#111" stroke-width="1.2"/>
<circle cx="479.10" cy="241.50" r="1.2" fill="#111"/>
<circle cx="482.50" cy="241.50" r="1.2" fill="#111"/>
<text x="429.50" y="329.50" font-size="7.1" text-anchor="end" transform="rotate(-30 429.50 329.50)">TCD-BM only</text>
<text x="466.00" y="329.50" font-size="7.1" text-anchor="end" transform="rotate(-30 466.00 329.50)">dnRARα</text>
<text x="502.50" y="329.50" font-size="7.1" text-anchor="end" transform="rotate(-30 502.50 329.50)">dnRARαCD4<tspan font-size="5" dy="-2.8">Cre</tspan></text>
</svg>
</body></html>
